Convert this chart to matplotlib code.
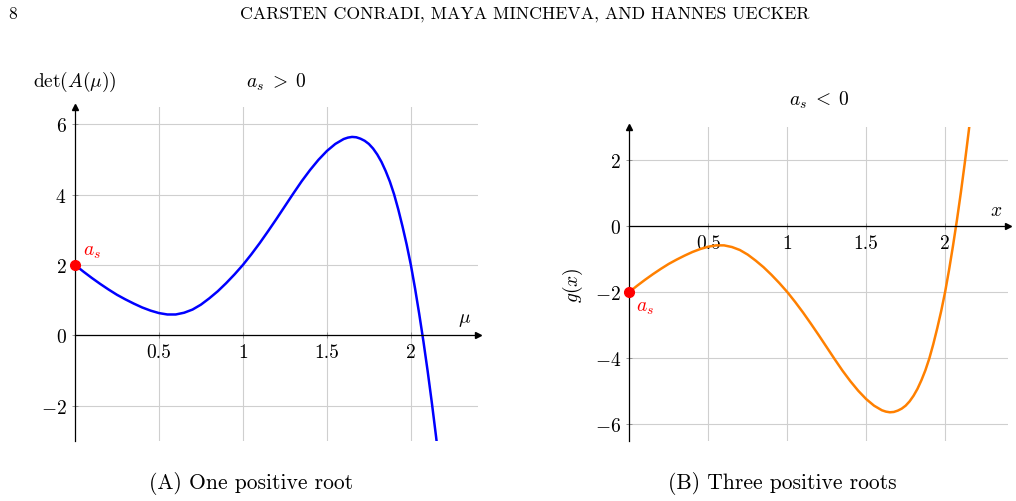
import matplotlib
matplotlib.use("Agg")
import matplotlib.pyplot as plt

plt.rcParams["font.family"] = "cmr10"
plt.rcParams["mathtext.fontset"] = "cm"
plt.rcParams["axes.formatter.use_mathtext"] = True

# curve (left panel); right panel is its mirror
mu = [0.00, 0.05, 0.10, 0.15, 0.20, 0.25, 0.30, 0.35, 0.40, 0.45,
      0.50, 0.55, 0.60, 0.65, 0.70, 0.75, 0.80, 0.85, 0.90, 0.95,
      1.00, 1.05, 1.10, 1.15, 1.20, 1.25, 1.30, 1.35, 1.40, 1.45,
      1.50, 1.55, 1.600, 1.625, 1.650, 1.675, 1.700, 1.725, 1.750, 1.775,
      1.800, 1.825, 1.850, 1.875, 1.900, 1.925, 1.950, 1.975, 2.000, 2.025,
      2.050, 2.075, 2.100, 2.125, 2.150, 2.175]
det_a = [2.00, 1.81, 1.63, 1.46, 1.30, 1.15, 1.02, 0.90, 0.79, 0.70,
         0.63, 0.59, 0.59, 0.64, 0.73, 0.87, 1.05, 1.25, 1.48, 1.73,
         2.00, 2.30, 2.62, 2.96, 3.31, 3.67, 4.03, 4.38, 4.70, 4.99,
         5.24, 5.44, 5.58, 5.62, 5.64, 5.63, 5.59, 5.53, 5.44, 5.31,
         5.14, 4.93, 4.67, 4.37, 4.01, 3.58, 3.10, 2.58, 2.00, 1.33,
         0.60, -0.18, -1.02, -1.92, -2.88, -3.90]
g_x = [-v for v in det_a]

x_ticks = [0.5, 1, 1.5, 2]
x_tick_labels = ["0.5", "1", "1.5", "2"]
y_ticks_a = [-2, 0, 2, 4, 6]
y_ticks_b = [-6, -4, -2, 0, 2]
a_s_a = 2
a_s_b = -2

fig = plt.figure(figsize=(10.16, 5.02), dpi=100)
ax1 = fig.add_axes([0.0738, 0.1201, 0.3967, 0.6654])
ax2 = fig.add_axes([0.6194, 0.1201, 0.3730, 0.6255])


def style(ax, yticks, ylim):
    ax.set_xlim(0, 2.4)
    ax.set_ylim(*ylim)
    for s in ["top", "right"]:
        ax.spines[s].set_visible(False)
    ax.spines["bottom"].set_position(("data", 0))
    ax.spines["left"].set_position(("data", 0))
    ax.spines["bottom"].set_linewidth(0.9)
    ax.spines["left"].set_linewidth(0.9)
    ax.set_xticks(x_ticks)
    ax.set_xticklabels(x_tick_labels)
    ax.set_yticks(yticks)
    ax.set_yticklabels(["$%d$" % t for t in yticks])
    ax.tick_params(direction="inout", length=4, width=0.6, color="#888888",
                   labelsize=14, pad=4)
    ax.grid(True, color="#cfcfcf", lw=0.8)
    ax.set_axisbelow(True)
    ax.plot(1, 0, marker=">", color="k", ms=5, transform=ax.get_yaxis_transform(), clip_on=False)
    ax.plot(0, 1, marker="^", color="k", ms=5, transform=ax.get_xaxis_transform(), clip_on=False)


style(ax1, y_ticks_a, (-3, 6.5))
style(ax2, y_ticks_b, (-6.5, 3))

ax1.plot(mu, det_a, color="#0000ff", lw=1.8)
ax1.plot([0], [a_s_a], "o", color="#ff0000", ms=7, clip_on=False, zorder=5)
ax1.text(0.05, 2.4, "$a_s$", color="#ff0000", fontsize=14, va="center")
ax1.text(2.32, 0.2, r"$\mu$", fontsize=14, ha="center", va="bottom")
ax1.text(0, 1.077, r"$\mathrm{det}(A(\mu))$", transform=ax1.transAxes,
         fontsize=14, ha="center", va="center")
ax1.text(0.5, 1.077, r"$a_s\;>\;0$", transform=ax1.transAxes,
         fontsize=14, ha="center", va="center")

ax2.plot(mu, g_x, color="#ff8000", lw=1.8)
ax2.plot([0], [a_s_b], "o", color="#ff0000", ms=7, clip_on=False, zorder=5)
ax2.text(0.04, -2.45, "$a_s$", color="#ff0000", fontsize=14, va="center")
ax2.text(2.32, 0.2, "$x$", fontsize=14, ha="center", va="bottom")
ax2.text(-0.149, 0.5, "$g(x)$", transform=ax2.transAxes, rotation=90,
         fontsize=14, ha="center", va="center")
ax2.text(0.5, 1.088, r"$a_s\;<\;0$", transform=ax2.transAxes,
         fontsize=14, ha="center", va="center")

fig.text(0.008, 0.972, "8", fontsize=12.5, va="center")
fig.text(0.516, 0.972, "CARSTEN CONRADI, MAYA MINCHEVA, AND HANNES UECKER",
         fontsize=12.8, ha="center", va="center")
fig.text(0.247, 0.036, "(A) One positive root", fontsize=15.5, ha="center", va="center")
fig.text(0.770, 0.036, "(B) Three positive roots", fontsize=15.5, ha="center", va="center")

fig.savefig("out.png", dpi=100)
